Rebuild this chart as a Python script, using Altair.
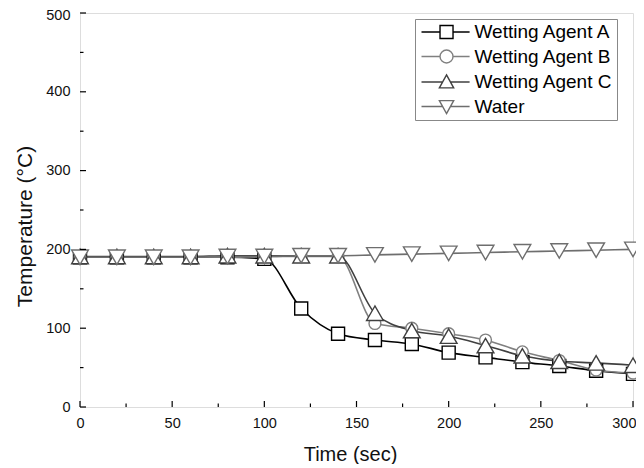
import altair as alt
import pandas as pd

time = [0, 20, 40, 60, 80, 100, 120, 140, 160, 180, 200, 220, 240, 260, 280, 300]
agent_a = [190, 190, 190, 190, 190, 188, 125, 93, 85, 80, 69, 63, 57, 52, 46, 42]
agent_b = [190, 190, 190, 190, 190, 191, 191, 191, 106, 100, 93, 85, 70, 59, 47, 43]
agent_c = [191, 191, 191, 191, 192, 192, 192, 192, 119, 97, 90, 78, 65, 58, 56, 53]
water = [190, 190, 190, 190, 191, 191, 192, 192, 193, 194, 195, 196, 197, 198, 199, 200]

series_names = ["Wetting Agent A", "Wetting Agent B", "Wetting Agent C", "Water"]
series_values = [agent_a, agent_b, agent_c, water]
colors = ["#000000", "#808080", "#404040", "#6e6e6e"]
shapes = ["square", "circle", "triangle-up", "triangle-down"]
marker_sizes = [169, 140, 280, 280]
legend_paths = [
    "M-1,0H1.85M3.85,0H6.4M1.85,-1H3.85V1H1.85Z",
    "M-1,0H1.85M3.85,0H6.4M3.85,0A1,1 0 1,1 1.85,0A1,1 0 1,1 3.85,0Z",
    "M-1,0H2.25M3.45,0H6.4M2.85,-1.1L3.95,0.9L1.75,0.9Z",
    "M-1,0H2.25M3.45,0H6.4M2.85,1.1L3.95,-0.9L1.75,-0.9Z",
]

x_major = [0, 50, 100, 150, 200, 250, 300]
x_minor = [25, 75, 125, 175, 225, 275]
y_major = [0, 100, 200, 300, 400, 500]
y_minor = [50, 150, 250, 350, 450]

rows = []
for i, (name, vals) in enumerate(zip(series_names, series_values)):
    for t, v in zip(time, vals):
        rows.append({"series": name, "time": t, "temp": v, "ord": i})
df = pd.DataFrame(rows)

FONT = "Liberation Sans"
W, H = 553, 394

x_axis = alt.Axis(values=x_major, ticks=False, tickSize=0, domain=False, grid=False,
                  labelPadding=9, labelFontSize=14.5, labelFont=FONT, labelColor="#111",
                  labelAlign={"condition": {"test": "datum.value >= 300", "value": "right"}, "value": "center"},
                  labelOffset={"condition": {"test": "datum.value >= 300", "value": 3}, "value": 0},
                  title="Time (sec)", titleFontSize=20, titleFont=FONT,
                  titleFontWeight="normal", titleColor="#111",
                  titleX=270, titleY=37)
y_axis = alt.Axis(values=y_major, ticks=False, tickSize=0, domain=False, grid=False,
                  labelPadding=10, labelFontSize=14.5, labelFont=FONT, labelColor="#111",
                  labelOffset={"condition": {"test": "datum.value >= 500", "value": 2}, "value": 0},
                  title="Temperature (°C)", titleFontSize=21, titleFont=FONT,
                  titleFontWeight="normal", titleColor="#111",
                  titleX=-45, titleY=213)
x_scale = alt.Scale(domain=[0, 300], nice=False, zero=False)
y_scale = alt.Scale(domain=[0, 500], nice=False)

def X(field="time"):
    return alt.X(f"{field}:Q", scale=x_scale, axis=x_axis)

def Y(field="temp"):
    return alt.Y(f"{field}:Q", scale=y_scale, axis=y_axis)

stroke_scale = alt.Scale(domain=series_names, range=colors)

lines = alt.Chart(df).mark_line(interpolate="monotone", strokeWidth=1.6).encode(
    x=X(), y=Y(),
    stroke=alt.Stroke("series:N", scale=stroke_scale, legend=None),
    order=alt.Order("time:Q"),
)

point_layers = []
for name, col, shp, sz in zip(series_names, colors, shapes, marker_sizes):
    point_layers.append(
        alt.Chart(df).transform_filter(alt.datum.series == name).mark_point(
            filled=True, fill="white", stroke=col, shape=shp, size=sz,
            opacity=1, strokeWidth=1.4).encode(x=X(), y=Y())
    )

xt_major = pd.DataFrame({"time": x_major})
xt_minor = pd.DataFrame({"time": x_minor})
yt_major = pd.DataFrame({"temp": y_major})
yt_minor = pd.DataFrame({"temp": y_minor})

xtick1 = alt.Chart(xt_major).mark_rule(color="black", strokeWidth=1.2).encode(
    x=X(), y=alt.value(H), y2=alt.value(H - 6))
xtick2 = alt.Chart(xt_minor).mark_rule(color="black", strokeWidth=1.2).encode(
    x=X(), y=alt.value(H), y2=alt.value(H - 3.5))
ytick1 = alt.Chart(yt_major).mark_rule(color="black", strokeWidth=1.2).encode(
    y=Y(), x=alt.value(0), x2=alt.value(6))
ytick2 = alt.Chart(yt_minor).mark_rule(color="black", strokeWidth=1.2).encode(
    y=Y(), x=alt.value(0), x2=alt.value(3.5))

leg = alt.Legend(title=None, orient="none", legendX=335, legendY=6,
                 labelFont=FONT, labelFontSize=19, labelColor="#000",
                 symbolFillColor="white", symbolStrokeWidth=1.4, symbolSize=169,
                 labelOffset=37, rowPadding=4.5, padding=3.5, labelLimit=400,
                 strokeColor="#888888", fillColor="white")

legend_layer = alt.Chart(df).transform_filter("false").mark_point(
    filled=True, fill="white", opacity=1, size=169, strokeWidth=1.4).encode(
    x=X(), y=Y(),
    stroke=alt.Stroke("series:N", scale=alt.Scale(domain=series_names, range=colors), legend=leg),
    shape=alt.Shape("series:N", scale=alt.Scale(domain=series_names, range=legend_paths), legend=leg),
)

chart = alt.layer(lines, *point_layers, xtick1, xtick2, ytick1, ytick2, legend_layer).resolve_scale(
    stroke="independent", shape="independent"
).properties(
    width=W, height=H, autosize="none",
    padding={"left": 72, "top": 5, "right": 3, "bottom": 57},
).configure_view(stroke="black", strokeWidth=1.5).configure(background="white")

chart.save("out.html", embed_options={"renderer": "svg", "actions": False})
